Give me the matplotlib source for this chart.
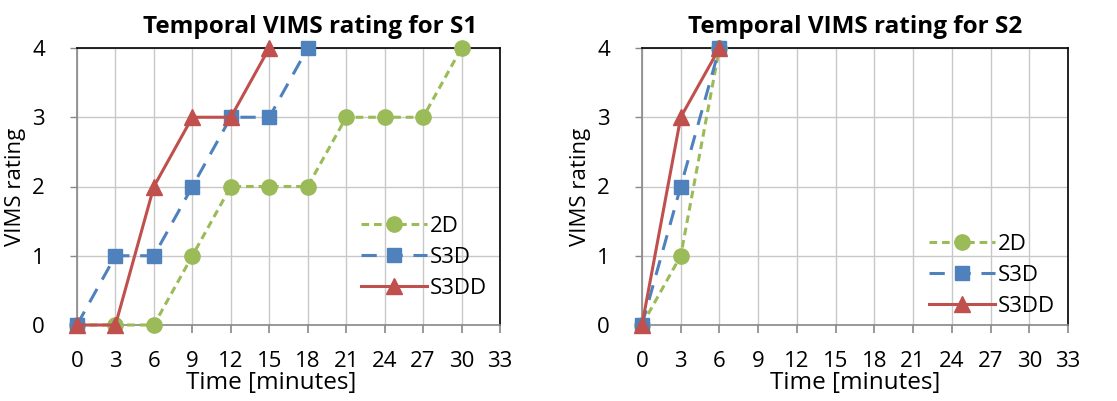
import matplotlib
matplotlib.use("Agg")
import matplotlib.pyplot as plt

plt.rcParams['font.family'] = ['Open Sans', 'DejaVu Sans']

x_ticks = [0, 3, 6, 9, 12, 15, 18, 21, 24, 27, 30, 33]
y_ticks = [0, 1, 2, 3, 4]

s1_2d_t = [0, 3, 6, 9, 12, 15, 18, 21, 24, 27, 30]
s1_2d_v = [0, 0, 0, 1, 2, 2, 2, 3, 3, 3, 4]
s1_s3d_t = [0, 3, 6, 9, 12, 15, 18]
s1_s3d_v = [0, 1, 1, 2, 3, 3, 4]
s1_s3dd_t = [0, 3, 6, 9, 12, 15]
s1_s3dd_v = [0, 0, 2, 3, 3, 4]

s2_2d_t = [0, 3, 6]
s2_2d_v = [0, 1, 4]
s2_s3d_t = [0, 3, 6]
s2_s3d_v = [0, 2, 4]
s2_s3dd_t = [0, 3, 6]
s2_s3dd_v = [0, 3, 4]

titles = ["Temporal VIMS rating for S1", "Temporal VIMS rating for S2"]
labels = ["2D", "S3D", "S3DD"]

GREEN = "#9BBB59"
BLUE = "#4F81BD"
RED = "#C0504D"

fig = plt.figure(figsize=(11.17, 4.01), dpi=100)
ax1 = fig.add_axes([77/1117, 1-325/401, 423/1117, 277/401])
ax2 = fig.add_axes([642/1117, 1-325/401, 426/1117, 277/401])

data = [
    [(s1_2d_t, s1_2d_v), (s1_s3d_t, s1_s3d_v), (s1_s3dd_t, s1_s3dd_v)],
    [(s2_2d_t, s2_2d_v), (s2_s3d_t, s2_s3d_v), (s2_s3dd_t, s2_s3dd_v)],
]

for ax, d, title, ly, tx, xlx in zip([ax1, ax2], data, titles, [0.245, 0.18],
                                    [0.55, 0.5], [0.46, 0.5]):
    (t0, v0), (t1, v1), (t2, v2) = d
    ax.plot(t0, v0, color=GREEN, lw=2.2, ls=(0, (2.5, 1.6)), marker='o', ms=11,
            mfc=GREEN, mec=GREEN, label=labels[0], zorder=3)
    ax.plot(t1, v1, color=BLUE, lw=2.2, ls=(0, (5, 3.5)), marker='s', ms=10.5,
            mfc=BLUE, mec=BLUE, label=labels[1], zorder=4)
    ax.plot(t2, v2, color=RED, lw=2.2, ls='-', marker='^', ms=11,
            mfc=RED, mec=RED, label=labels[2], zorder=5)
    ax.set_xlim(0, 33)
    ax.set_ylim(0, 4)
    ax.set_xticks(x_ticks)
    ax.set_yticks(y_ticks)
    ax.grid(True, color="#C8C8C8", lw=1.0)
    ax.set_axisbelow(True)
    for sp in ax.spines.values():
        sp.set_color("black")
        sp.set_linewidth(1.2)
    ax.spines['left'].set_color("#888888")
    ax.spines['bottom'].set_color("#888888")
    ax.tick_params(axis='x', direction='out', length=6, width=1.2, color="#888888",
                   labelsize=16, pad=13)
    ax.tick_params(axis='y', direction='out', length=5, width=1.0, color="#888888",
                   labelsize=16, pad=18)
    ax.set_xlabel("Time [minutes]", fontsize=17.5)
    ax.xaxis.set_label_coords(xlx, -0.165)
    ax.set_ylabel("VIMS rating", fontsize=16)
    ax.yaxis.set_label_coords(-0.12, 0.5)
    ax.set_title(title, fontsize=17.5, fontweight='bold', pad=11, x=tx)
    ax.legend(loc='center right', bbox_to_anchor=(1.0, ly), frameon=False, fontsize=16,
              handlelength=3.0, handletextpad=0.1, labelspacing=0.45, borderaxespad=0.2)
    for ln in ax.get_lines():
        ln.set_clip_on(False)

fig.savefig("out.png", dpi=100)
